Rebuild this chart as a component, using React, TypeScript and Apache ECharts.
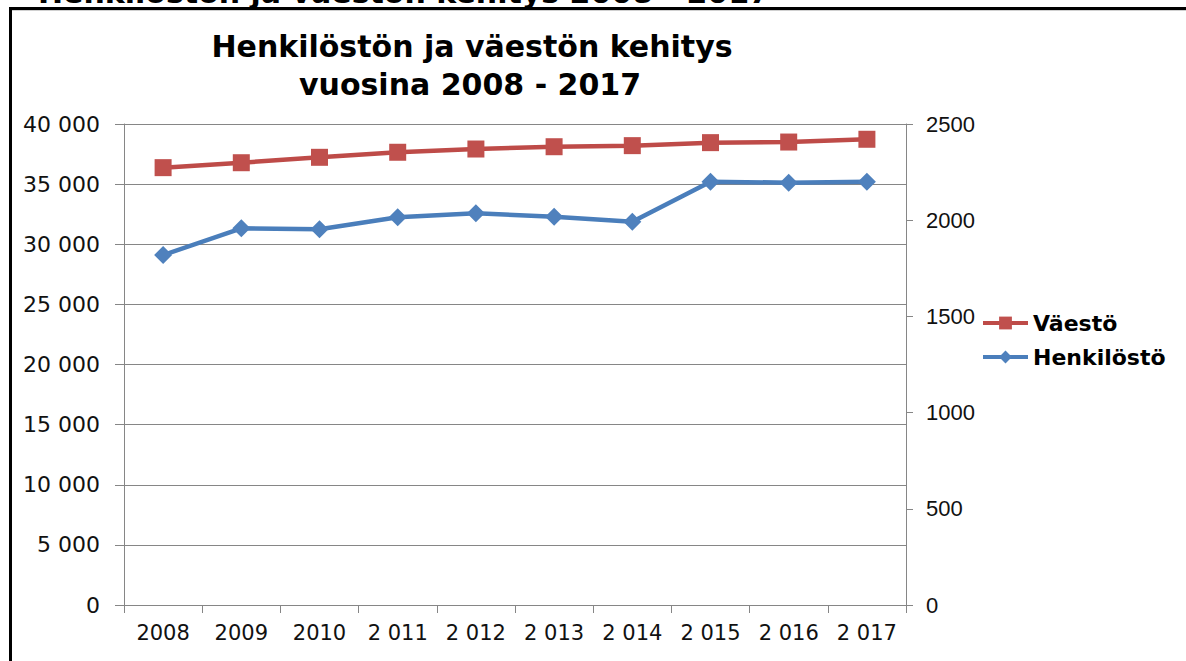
import React, { useEffect, useRef } from "react";
import * as echarts from "echarts";

const years = ["2008", "2009", "2010", "2 011", "2 012", "2 013", "2 014", "2 015", "2 016", "2 017"];
const vaesto = [36370, 36780, 37230, 37650, 37920, 38110, 38200, 38450, 38500, 38730];
const henkilosto = [1819, 1958, 1953, 2015, 2036, 2018, 1992, 2200, 2195, 2200];
const titleLines = ["Henkilöstön ja väestön kehitys", "vuosina 2008 - 2017"];
const cutHeading = "Henkilöstön ja väestön kehitys 2008 - 2017";

const fmtThousands = (v: number) => String(v).replace(/\B(?=(\d{3})+(?!\d))/g, " ");

export default function App() {
  const ref = useRef<HTMLDivElement>(null);
  useEffect(() => {
    if (!ref.current) return;
    const chart = echarts.init(ref.current, undefined, { renderer: "svg" });
    const axisGray = "#868686";
    chart.setOption({
      animation: false,
      backgroundColor: "#ffffff",
      grid: { left: 124, right: 280, top: 124, bottom: 56, containLabel: false },
      legend: {
        orient: "vertical",
        left: 976,
        top: 306,
        itemWidth: 45,
        itemHeight: 16,
        itemGap: 10,
        data: ["Väestö", "Henkilöstö"],
        lineStyle: { width: 4 },
        textStyle: {
          fontFamily: "DejaVu Sans",
          fontWeight: "bold",
          fontSize: 22,
          lineHeight: 24,
          color: "#000",
        },
      },
      xAxis: {
        type: "category",
        data: years,
        boundaryGap: true,
        axisLine: { show: true, lineStyle: { color: axisGray, width: 1 } },
        axisTick: { show: true, interval: 0, length: 8, lineStyle: { color: axisGray } },
        axisLabel: {
          interval: 0,
          margin: 17,
          fontFamily: "DejaVu Sans",
          fontSize: 21,
          color: "#111",
        },
      },
      yAxis: [
        {
          type: "value",
          min: 0,
          max: 40000,
          interval: 5000,
          position: "left",
          axisLine: { show: true, lineStyle: { color: axisGray, width: 1 } },
          axisTick: { show: true, length: 9, lineStyle: { color: axisGray } },
          splitLine: { show: true, lineStyle: { color: axisGray, width: 1 } },
          axisLabel: {
            margin: 24,
            fontFamily: "DejaVu Sans",
            fontSize: 22,
            color: "#111",
            formatter: (v: number) => fmtThousands(v),
          },
        },
        {
          type: "value",
          min: 0,
          max: 2500,
          interval: 500,
          position: "right",
          axisLine: { show: true, lineStyle: { color: axisGray, width: 1 } },
          axisTick: { show: true, length: 7, lineStyle: { color: axisGray } },
          splitLine: { show: false },
          axisLabel: {
            margin: 20,
            fontFamily: "Liberation Sans",
            fontSize: 22,
            color: "#111",
            formatter: (v: number) => String(v),
          },
        },
      ],
      series: [
        {
          name: "Väestö",
          type: "line",
          yAxisIndex: 0,
          data: vaesto,
          symbol: "rect",
          symbolSize: 17,
          lineStyle: { color: "#BE4B48", width: 4.5 },
          itemStyle: { color: "#C0504D" },
        },
        {
          name: "Henkilöstö",
          type: "line",
          yAxisIndex: 1,
          data: henkilosto,
          symbol: "diamond",
          symbolSize: 18,
          lineStyle: { color: "#4A7EBB", width: 4.5 },
          itemStyle: { color: "#4F81BD" },
        },
      ],
      graphic: [
        {
          type: "text",
          x: 38,
          y: 7,
          z: 5,
          style: {
            text: cutHeading,
            fontFamily: "DejaVu Sans",
            fontWeight: "bold",
            fontSize: 30,
            fill: "#000",
            align: "left",
            verticalAlign: "bottom",
          },
        },
        {
          type: "text",
          x: 472,
          y: 46,
          z: 5,
          style: {
            text: titleLines[0],
            fontFamily: "DejaVu Sans",
            fontWeight: "bold",
            fontSize: 30,
            fill: "#000",
            align: "center",
            verticalAlign: "middle",
          },
        },
        {
          type: "text",
          x: 470,
          y: 84,
          z: 5,
          style: {
            text: titleLines[1],
            fontFamily: "DejaVu Sans",
            fontWeight: "bold",
            fontSize: 30,
            fill: "#000",
            align: "center",
            verticalAlign: "middle",
          },
        },
        {
          type: "line",
          z: 10,
          shape: { x1: 10.5, y1: 8.5, x2: 1186, y2: 8.5 },
          style: { stroke: "#000", lineWidth: 3 },
        },
        {
          type: "line",
          z: 10,
          shape: { x1: 12, y1: 10.5, x2: 1186, y2: 10.5 },
          style: { stroke: "#d0d0d0", lineWidth: 1 },
        },
        {
          type: "line",
          z: 10,
          shape: { x1: 10.5, y1: 7, x2: 10.5, y2: 661 },
          style: { stroke: "#000", lineWidth: 3 },
        },
      ],
    });
    return () => chart.dispose();
  }, []);
  return (
    <div
      ref={ref}
      style={{ position: "absolute", left: 0, top: 0, width: 1186, height: 661, background: "#fff" }}
    />
  );
}
